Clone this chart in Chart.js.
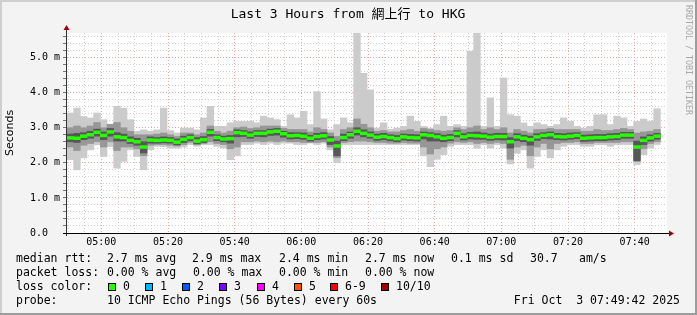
<!DOCTYPE html>
<html><head><meta charset="utf-8">
<script src="https://cdn.jsdelivr.net/npm/chart.js@4"></script>
<style>html,body{margin:0;padding:0;background:#f3f3f3;overflow:hidden}canvas{display:block}</style>
</head><body><canvas id="c" width="697" height="315"></canvas>
<script>
const titleText = 'Last 3 Hours from 網上行 to HKG';
const yAxisTitle = 'Seconds';
const sideText = 'RRDTOOL / TOBI OETIKER';
const startTime = '04:49:42';
const endTime = '07:49:42';
const stepMinutes = 2;

// median rtt (ms) per 2-minute column
const medianRtt = [2.71,2.70,2.76,2.80,2.87,2.78,2.88,2.74,2.72,2.64,2.60,2.45,2.65,2.64,2.65,2.64,2.59,2.67,2.72,2.62,
2.66,2.87,2.72,2.68,2.69,2.86,2.84,2.79,2.84,2.84,2.88,2.90,2.83,2.77,2.78,2.76,2.70,2.75,2.77,2.65,
2.48,2.72,2.80,2.90,2.84,2.79,2.73,2.75,2.72,2.69,2.74,2.72,2.71,2.80,2.78,2.74,2.70,2.72,2.84,2.74,
2.78,2.77,2.76,2.73,2.75,2.75,2.60,2.74,2.70,2.66,2.74,2.78,2.80,2.75,2.74,2.76,2.78,2.70,2.71,2.72,
2.72,2.74,2.75,2.79,2.79,2.45,2.64,2.71,2.76];
// slowest ping
const pingMax = [3.42,3.56,3.32,3.28,3.42,3.23,3.05,3.61,3.56,3.23,2.90,2.94,2.90,2.94,3.56,2.92,2.85,2.99,2.99,2.94,
3.28,3.61,3.04,3.04,3.14,3.18,3.18,3.18,3.14,3.33,3.28,3.23,3.04,3.37,3.28,3.47,3.09,4.03,3.25,2.94,
3.09,3.28,3.14,5.70,4.55,4.08,2.99,3.14,2.95,2.99,3.04,3.33,3.18,3.04,2.99,3.09,3.33,3.04,3.09,3.04,
5.18,5.70,3.04,3.85,3.04,4.42,3.37,3.33,3.14,3.04,3.14,3.09,3.04,3.09,3.28,3.18,3.04,2.99,3.04,3.37,
3.37,3.09,3.33,3.28,3.04,3.18,3.25,3.18,3.54];
// fastest ping
const pingMin = [2.09,1.80,2.14,2.37,2.51,2.18,2.46,1.85,2.04,2.37,2.18,1.80,2.37,2.47,2.46,2.42,2.42,2.45,2.52,2.47,
2.52,2.52,2.47,2.42,2.09,2.20,2.52,2.52,2.56,2.52,2.56,2.52,2.56,2.56,2.52,2.52,2.56,2.52,2.56,2.37,
2.00,2.52,2.52,2.52,2.52,2.52,2.52,2.52,2.52,2.52,2.52,2.52,2.52,2.20,1.89,2.10,2.23,2.47,2.52,2.52,
2.52,2.42,2.52,2.42,2.52,2.42,1.97,2.27,2.37,1.85,2.18,2.37,2.14,2.37,2.47,2.52,2.52,2.47,2.47,2.52,
2.52,2.47,2.52,2.52,2.52,1.95,2.23,2.42,2.52];
// 2nd slowest / 2nd fastest
const smokeHi = [3.00,3.05,3.00,3.05,3.15,3.00,3.10,3.15,3.00,2.90,2.80,2.80,2.80,2.82,2.85,2.80,2.75,2.85,2.85,2.80,
2.85,3.05,2.90,2.85,2.90,3.00,3.02,2.98,3.00,3.05,3.05,3.05,2.98,2.95,2.95,2.95,2.88,3.00,2.95,2.85,
2.75,2.95,3.00,3.25,3.10,3.00,2.90,2.92,2.88,2.88,2.92,2.95,2.90,2.98,2.95,2.92,2.90,2.92,3.00,2.95,
3.00,3.05,2.95,3.00,2.95,3.00,2.85,2.95,2.90,2.85,2.95,2.95,2.98,2.95,2.95,2.95,2.95,2.90,2.90,2.95,
2.92,2.92,2.95,2.98,2.95,2.85,2.88,2.90,2.95];
const smokeLo = [2.45,2.35,2.50,2.55,2.60,2.45,2.60,2.35,2.45,2.45,2.40,2.20,2.50,2.52,2.52,2.50,2.48,2.52,2.58,2.52,
2.55,2.60,2.55,2.52,2.40,2.45,2.60,2.60,2.62,2.60,2.62,2.60,2.62,2.60,2.60,2.58,2.58,2.58,2.60,2.45,
2.15,2.58,2.60,2.62,2.62,2.60,2.58,2.58,2.56,2.56,2.58,2.56,2.56,2.45,2.25,2.40,2.45,2.56,2.60,2.58,
2.60,2.55,2.58,2.55,2.58,2.55,2.10,2.45,2.50,2.20,2.45,2.55,2.40,2.55,2.58,2.58,2.60,2.55,2.55,2.58,
2.58,2.58,2.58,2.60,2.60,2.10,2.40,2.55,2.60];
// inner pings
const coreHi = [2.82,2.84,2.86,2.90,2.96,2.88,2.98,2.86,2.82,2.74,2.70,2.60,2.74,2.72,2.74,2.72,2.68,2.76,2.80,2.72,
2.75,2.95,2.80,2.76,2.78,2.94,2.92,2.88,2.92,2.92,2.96,2.98,2.90,2.86,2.86,2.85,2.79,2.84,2.86,2.75,
2.62,2.82,2.88,3.00,2.94,2.88,2.82,2.84,2.80,2.78,2.82,2.81,2.80,2.88,2.86,2.83,2.79,2.81,2.92,2.83,
2.87,2.88,2.85,2.82,2.84,2.84,2.72,2.83,2.79,2.76,2.83,2.86,2.88,2.84,2.83,2.85,2.86,2.79,2.80,2.81,
2.81,2.83,2.84,2.87,2.87,2.62,2.74,2.80,2.84];
const coreLo = [2.60,2.58,2.66,2.70,2.76,2.66,2.76,2.62,2.62,2.55,2.50,2.28,2.56,2.56,2.57,2.56,2.51,2.58,2.63,2.54,
2.58,2.76,2.63,2.60,2.56,2.74,2.75,2.70,2.75,2.74,2.78,2.79,2.73,2.68,2.69,2.67,2.62,2.66,2.68,2.52,
2.20,2.63,2.70,2.79,2.74,2.70,2.64,2.66,2.63,2.60,2.65,2.63,2.62,2.68,2.62,2.62,2.60,2.63,2.74,2.65,
2.68,2.67,2.67,2.64,2.66,2.65,2.42,2.63,2.60,2.50,2.64,2.69,2.68,2.66,2.65,2.67,2.69,2.61,2.62,2.63,
2.63,2.65,2.66,2.70,2.70,2.05,2.52,2.62,2.67];

const xTickLabels = ['05:00','05:20','05:40','06:00','06:20','06:40','07:00','07:20','07:40'];
const yTickLabels = ['0.0  ','1.0 m','2.0 m','3.0 m','4.0 m','5.0 m'];
const yMax = 5.7;

const legendRtt = ['median rtt:','2.7 ms avg','2.9 ms max','2.4 ms min','2.7 ms now','0.1 ms sd','30.7','am/s'];
const legendLoss = ['packet loss:','0.00 % avg','0.00 % max','0.00 % min','0.00 % now'];
const lossLabels = ['0','1','2','3','4','5','6-9','10/10'];
const lossColors = ['#26ff00','#00b8ff','#0059ff','#7e00ff','#ff00ff','#ff5500','#ff0000','#a10000'];
const probeText = ['probe:','10 ICMP Echo Pings (56 Bytes) every 60s','Fri Oct  3 07:49:42 2025'];

function toMin(s){const p=s.split(':').map(Number);return p[0]*60+p[1]+(p[2]||0)/60;}
const x0 = toMin(startTime), x1 = toMin(endTime);
function pts(lo, hi){return lo.map((v,i)=>({x:x0+stepMinutes*i+stepMinutes/2,y:[v,hi[i]]}));}
const medThick = 0.04;
const medLo = medianRtt.map(v=>v-medThick), medHi = medianRtt.map(v=>v+medThick);

const MONO = '"DejaVu Sans Mono", "Noto Sans CJK TC", monospace';

const frame = {
  id:'frame',
  beforeDraw(chart){
    const {ctx, chartArea:a} = chart;
    ctx.save();
    ctx.fillStyle='#f3f3f3'; ctx.fillRect(0,0,chart.width,chart.height);
    ctx.fillStyle='#ffffff'; ctx.fillRect(a.left,a.top,a.right-a.left,a.bottom-a.top);
    ctx.restore();
  },
  afterDraw(chart){
    const {ctx, chartArea:a} = chart;
    ctx.save();
    // axes
    ctx.strokeStyle='#333'; ctx.lineWidth=1;
    ctx.beginPath(); ctx.moveTo(a.left-0.5, a.bottom+3); ctx.lineTo(a.left-0.5, a.top-4); ctx.stroke();
    ctx.strokeStyle='#000';
    ctx.beginPath(); ctx.moveTo(a.left-4, a.bottom+0.5); ctx.lineTo(a.right+4, a.bottom+0.5); ctx.stroke();
    ctx.fillStyle='#a00000';
    ctx.beginPath(); ctx.moveTo(a.left-3.5,a.top-3); ctx.lineTo(a.left+2.5,a.top-3); ctx.lineTo(a.left-0.5,a.top-8); ctx.closePath(); ctx.fill();
    ctx.beginPath(); ctx.moveTo(a.right+2,a.bottom-2.5); ctx.lineTo(a.right+2,a.bottom+3.5); ctx.lineTo(a.right+7,a.bottom+0.5); ctx.closePath(); ctx.fill();
    // title
    ctx.fillStyle='#000'; ctx.textBaseline='middle'; ctx.textAlign='center';
    ctx.font='13px '+MONO;
    ctx.fillText(titleText, 348, 15);
    // y title
    ctx.save(); ctx.translate(10,133); ctx.rotate(-Math.PI/2);
    ctx.font='11px "DejaVu Sans", sans-serif'; ctx.fillText(yAxisTitle,0,0); ctx.restore();
    // side text
    ctx.save(); ctx.translate(688,60); ctx.rotate(Math.PI/2);
    ctx.fillStyle='#a8a8a8'; ctx.font='8.3px '+MONO; ctx.fillText(sideText,0,0); ctx.restore();
    // legend
    ctx.textAlign='left'; ctx.fillStyle='#000'; ctx.font='11.5px '+MONO;
    const c1=[16,107,192,279,365,451,530,579];
    legendRtt.forEach((t,i)=>ctx.fillText(t,c1[i],259));
    const c2=[16,107,193,279,365];
    legendLoss.forEach((t,i)=>ctx.fillText(t,c2[i],273));
    ctx.fillText('loss color:',16,287);
    const bx=[108,145,182,219,257,294,330,381];
    lossLabels.forEach((t,i)=>{
      ctx.fillStyle=lossColors[i]; ctx.fillRect(bx[i],283,8,8);
      ctx.strokeStyle='#000'; ctx.lineWidth=1; ctx.strokeRect(bx[i]+0.5,283.5,7,7);
      ctx.fillStyle='#000'; ctx.fillText(t,bx[i]+15,287);
    });
    ctx.fillText(probeText[0],16,301);
    ctx.fillText(probeText[1],107,301);
    ctx.textAlign='right'; ctx.fillText(probeText[2],680,301);
    // 3D frame
    ctx.fillStyle='#cfcfcf'; ctx.fillRect(0,0,chart.width,2); ctx.fillRect(0,0,2,chart.height);
    ctx.fillStyle='#9c9c9c'; ctx.fillRect(0,chart.height-2,chart.width,2); ctx.fillRect(chart.width-2,0,2,chart.height);
    ctx.restore();
  }
};

const xMajor = xTickLabels.map(toMin);
new Chart(document.getElementById('c'), {
  type:'bar',
  data:{datasets:[
    {label:'median',data:pts(medLo,medHi),backgroundColor:'#26ff00',order:0},
    {label:'core',data:pts(coreLo,coreHi),backgroundColor:'#575757',order:1},
    {label:'smoke',data:pts(smokeLo,smokeHi),backgroundColor:'#979797',order:2},
    {label:'range',data:pts(pingMin,pingMax),backgroundColor:'#cbcbcb',order:3}
  ]},
  options:{
    responsive:false, animation:false, devicePixelRatio:1,
    layout:{padding:{top:33,right:30,left:0,bottom:0}},
    plugins:{legend:{display:false},tooltip:{enabled:false},title:{display:false}},
    datasets:{bar:{grouped:false,barPercentage:1,categoryPercentage:1,borderWidth:0}},
    scales:{
      x:{type:'linear',min:x0,max:x1,offset:false,
        grid:{offset:false,drawTicks:false,lineWidth:1,
          color:c=>xMajor.some(m=>Math.abs(m-c.tick.value)<1e-6)?'#e8a8a8':'#cfcfcf'},
        border:{display:false,dash:[1,2]},
        afterBuildTicks:s=>{const t=[];for(let m=Math.ceil(x0/5)*5;m<x1;m+=5)t.push({value:m});s.ticks=t;},
        afterFit:s=>{s.height=82;},
        ticks:{autoSkip:false,maxRotation:0,padding:3,color:'#000',font:{family:MONO,size:10},
          callback:v=>{const i=xMajor.findIndex(m=>Math.abs(m-v)<1e-6);return i>=0?xTickLabels[i]:'';}}
      },
      y:{min:0,max:yMax,
        grid:{lineWidth:1,tickLength:4,tickColor:'#777',
          color:c=>Math.abs(c.tick.value-Math.round(c.tick.value))<1e-6?'#e8a8a8':'#cfcfcf'},
        border:{display:false,dash:[1,2]},
        afterBuildTicks:s=>{const t=[];for(let i=0;i*0.2<yMax-0.05;i++)t.push({value:+(i*0.2).toFixed(1)});s.ticks=t;},
        afterFit:s=>{s.width=67;},
        ticks:{autoSkip:false,padding:3,color:'#000',font:{family:MONO,size:10},
          callback:v=>{const r=Math.round(v);return Math.abs(v-r)<1e-6&&yTickLabels[r]!==undefined?yTickLabels[r]:'';}}
      }
    }
  },
  plugins:[frame]
});
</script></body></html>
